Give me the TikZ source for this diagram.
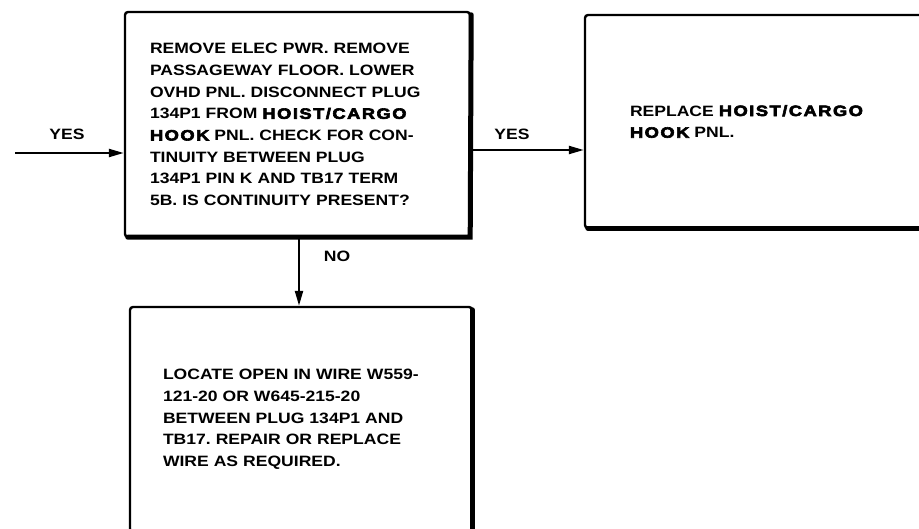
\documentclass[tikz,border=0pt]{standalone}
\usepackage{fontspec}
\setmainfont{Liberation Sans}[UprightFont=* Bold,FakeStretch=1.17]
\newfontfamily\heavy{Liberation Sans Bold}[FakeStretch=1.22,FakeBold=4,LetterSpace=10]
\usetikzlibrary{arrows.meta}
\frenchspacing
\tikzset{
  stepbox/.style={draw, line width=2.4pt, rounded corners=3pt, align=left, inner sep=0pt,
    font=\fontsize{15}{21.7}\selectfont},
  shadowedge/.style={line width=5pt, line cap=round},
  flow/.style={line width=2.2pt, -{Triangle[length=15pt,width=8pt]}},
  lbl/.style={font=\fontsize{15}{18}\selectfont, inner sep=0pt}
}
\newcommand{\hv}[1]{{\heavy #1}}
\begin{document}
\begin{tikzpicture}[x=1pt,y=-1pt]
\useasboundingbox[fill=white] (0,0) rectangle (919,529);
% boxes
\node[stepbox, minimum width=345pt, minimum height=225pt, text width=295pt] (b1) at (297.5,124.5)
 {REMOVE ELEC PWR. REMOVE\\PASSAGEWAY FLOOR. LOWER\\OVHD PNL. DISCONNECT PLUG\\134P1 FROM \hv{HOIST/CARGO}\\\hv{HOOK} PNL. CHECK FOR CON-\\TINUITY BETWEEN PLUG\\134P1 PIN K AND TB17 TERM\\5B. IS CONTINUITY PRESENT?};
\draw[shadowedge] ([yshift=-4pt]b1.north east) -- ([xshift=-1pt,yshift=1pt]b1.south east) -- ([xshift=4pt,yshift=1pt]b1.south west);
\node[stepbox, minimum width=340pt, minimum height=213pt, text width=250pt] (b2) at (755,121.5)
 {REPLACE \hv{HOIST/CARGO}\\\hv{HOOK} PNL.};
\draw[shadowedge] ([yshift=1pt]b2.south east) -- ([xshift=4pt,yshift=1pt]b2.south west);
\node[stepbox, minimum width=342pt, minimum height=225pt, text width=276pt] (b3) at (301,419.5)
 {LOCATE OPEN IN WIRE W559-\\121-20 OR W645-215-20\\BETWEEN PLUG 134P1 AND\\TB17. REPAIR OR REPLACE\\WIRE AS REQUIRED.};
\draw[shadowedge] ([xshift=-1pt,yshift=-4pt]b3.north east) -- ([xshift=-1pt]b3.south east);
% connectors
\coordinate (in) at (15,153);
\coordinate (ry) at (0,150);
\coordinate (dx) at (299,0);
\draw[flow] (in) -- (in -| b1.west);
\draw[flow] (b1.east |- ry) -- (b2.west |- ry);
\draw[flow] (b1.south -| dx) -- (b3.north -| dx);
% labels
\node[lbl] (yes1) at (67,134) {YES};
\node[lbl] (yes2) at (512,134) {YES};
\node[lbl] (no) at (337,256) {NO};
\end{tikzpicture}
\end{document}
